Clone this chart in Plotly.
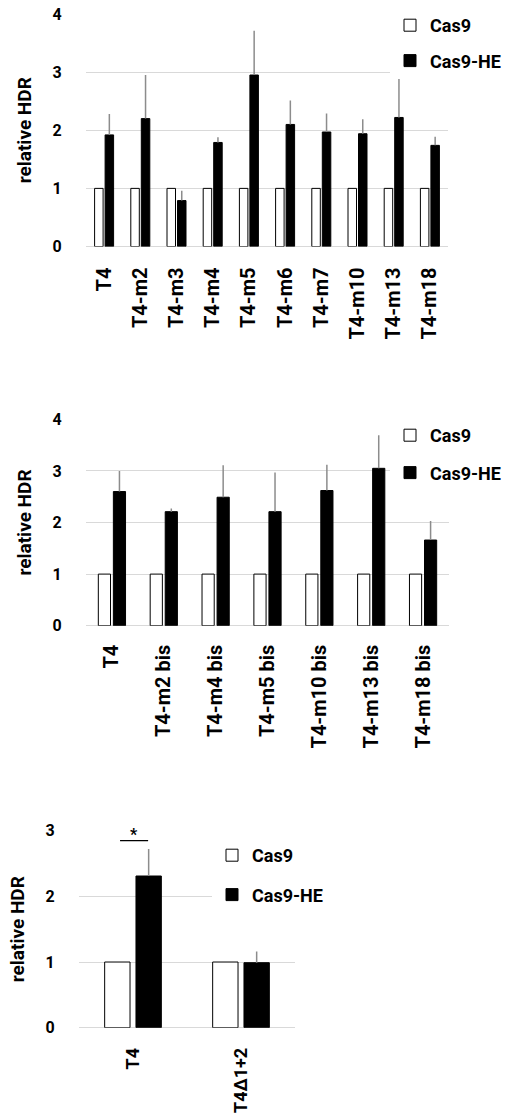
import plotly.graph_objects as go

W, H = 507, 1117

# ---- data ----
cats_top = ["T4", "T4-m2", "T4-m3", "T4-m4", "T4-m5", "T4-m6", "T4-m7", "T4-m10", "T4-m13", "T4-m18"]
cas9_top = [1, 1, 1, 1, 1, 1, 1, 1, 1, 1]
he_top = [1.92, 2.20, 0.79, 1.79, 2.95, 2.10, 1.97, 1.94, 2.22, 1.74]
he_top_err = [0.36, 0.75, 0.17, 0.09, 0.76, 0.41, 0.32, 0.25, 0.96, 0.15]

cats_mid = ["T4", "T4-m2 bis", "T4-m4 bis", "T4-m5 bis", "T4-m10 bis", "T4-m13 bis", "T4-m18 bis"]
cas9_mid = [1, 1, 1, 1, 1, 1, 1]
he_mid = [2.60, 2.21, 2.49, 2.21, 2.62, 3.05, 1.66]
he_mid_err = [0.40, 0.06, 0.62, 0.76, 0.50, 0.64, 0.37]

cats_bot = ["T4", "T4Δ1+2"]
cas9_bot = [1, 1]
he_bot = [2.31, 0.99]
he_bot_err = [0.41, 0.17]

series_names = ["Cas9", "Cas9-HE"]
y_title = "relative HDR"

FONT = "Roboto, Lato, Arial, sans-serif"
GRID = "#d9d9d9"
ERR = "#8c8c8c"


def px_x(p):
    return p / W


def px_y(p):
    return 1 - p / H


fig = go.Figure()

panels = [
    (cats_top, cas9_top, he_top, he_top_err, "x", "y", "legend"),
    (cats_mid, cas9_mid, he_mid, he_mid_err, "x2", "y2", "legend2"),
    (cats_bot, cas9_bot, he_bot, he_bot_err, "x3", "y3", "legend3"),
]

for cats, c9, he, err, xa, ya, lg in panels:
    fig.add_trace(go.Bar(
        x=cats, y=c9, name=series_names[0], xaxis=xa, yaxis=ya, legend=lg,
        legendgroup=lg + "a",
        marker=dict(color="white", line=dict(color="black", width=1)),
    ))
    fig.add_trace(go.Bar(
        x=cats, y=he, name=series_names[1], xaxis=xa, yaxis=ya, legend=lg,
        legendgroup=lg + "b",
        marker=dict(color="black", line=dict(color="black", width=1)),
        error_y=dict(type="data", symmetric=False, array=err,
                     arrayminus=[0] * len(err), color=ERR, thickness=1.5, width=0),
    ))

tickfont_y = dict(family=FONT, size=16, color="black", weight="bold")
titlefont = dict(family=FONT, size=19, color="black", weight="bold")


def yaxis(domain, rng, anchor):
    return dict(domain=domain, range=rng, dtick=1, anchor=anchor, automargin=False,
                showgrid=True, gridcolor=GRID, gridwidth=1,
                zeroline=True, zerolinecolor=GRID, zerolinewidth=1,
                showline=False, tickfont=tickfont_y,
                ticks="outside", ticklen=20, tickcolor="rgba(0,0,0,0)",
                title=dict(text=y_title, font=titlefont, standoff=15),
                fixedrange=True)


def xaxis(domain, anchor, ticklen, fsize):
    return dict(domain=domain, anchor=anchor, type="category", automargin=False,
                showgrid=False, zeroline=False, showline=False,
                tickangle=-90, tickfont=dict(family=FONT, size=fsize, color="black", weight="bold"),
                ticks="outside", ticklen=ticklen, tickcolor="rgba(0,0,0,0)",
                fixedrange=True)


def legend_at(x, y, gap):
    return dict(
        x=x, y=y,
        font=dict(family=FONT, size=18, color="black", weight="bold"),
        bgcolor="white", borderwidth=0, traceorder="grouped",
        tracegroupgap=gap, xanchor="left", yanchor="top", itemclick=False,
    )


fig.update_layout(
    width=W, height=H,
    margin=dict(l=0, r=0, t=0, b=0, autoexpand=False),
    paper_bgcolor="white", plot_bgcolor="white",
    barmode="group", bargap=0.42, bargroupgap=0.19,
    showlegend=True,
    xaxis=xaxis([px_x(86), px_x(448)], "y", 12, 20),
    yaxis=yaxis([px_y(246.5), px_y(14)], [0, 4], "x"),
    xaxis2=xaxis([px_x(86), px_x(449)], "y2", 10, 20),
    yaxis2=yaxis([px_y(625.7), px_y(419.3)], [0, 4], "x2"),
    xaxis3=xaxis([px_x(79), px_x(295)], "y3", 12, 18),
    yaxis3=yaxis([px_y(1027.7), px_y(830.7)], [0, 3], "x3"),
    legend=legend_at(px_x(390), px_y(7), 9),
    legend2=legend_at(px_x(390), px_y(417), 11),
    legend3=legend_at(px_x(212), px_y(837), 13),
)

# significance marker on the bottom panel
fig.add_shape(type="line", xref="x3", yref="y3", x0=-0.12, x1=0.14, y0=2.85, y1=2.85,
              line=dict(color="black", width=1.2))
fig.add_annotation(x=0.01, y=2.85, xref="x3", yref="y3", text="*", showarrow=False,
                   yanchor="bottom", font=dict(family=FONT, size=16, color="black", weight="bold"),
                   yshift=-5)

fig.write_html(
    "out.html",
    config={"displayModeBar": False, "staticPlot": False},
    post_script="document.body.style.margin='0';document.body.style.overflow='hidden';",
)
